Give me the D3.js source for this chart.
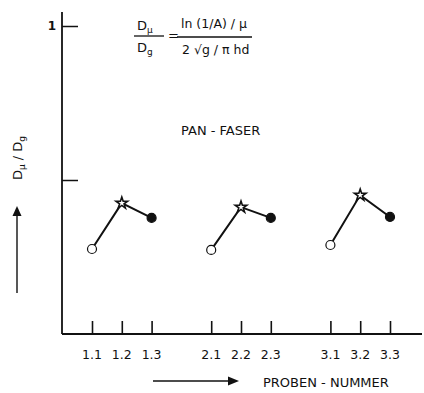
<!DOCTYPE html>
<html>
<head>
<meta charset="utf-8">
<script src="https://cdn.jsdelivr.net/npm/d3@7"></script>
<style>
  body { margin: 0; background: #fff; }
  text { font-family: "DejaVu Sans", sans-serif; fill: #111; }
</style>
</head>
<body>
<svg id="chart" width="424" height="393"></svg>
<script>
var groups = ['1', '2', '3'];
var samples = ['1.1', '1.2', '1.3', '2.1', '2.2', '2.3', '3.1', '3.2', '3.3'];
var ratio = [0.276, 0.425, 0.377, 0.273, 0.412, 0.377, 0.289, 0.451, 0.380];
var markers = ['open', 'star', 'filled'];
var yTicks = [0.5, 1];
var yTickLabels = ['', '1'];

var svg = d3.select('#chart');

// slot index: three samples per group, then one empty slot
function slot(s) {
  var p = s.split('.');
  return (+p[0] - 1) * 4 + (+p[1] - 1);
}

var x = d3.scaleLinear().domain([0, 10]).range([92, 390]);
var y = d3.scaleLinear().domain([0, 1]).range([334, 26]);

var g = svg.append('g');

// axes
g.append('g')
  .attr('transform', 'translate(0,334)')
  .call(d3.axisTop(x).tickValues(samples.map(slot)).tickFormat('').tickSize(13))
  .call(a => a.select('.domain').remove())
  .call(a => a.selectAll('line').attr('stroke', '#111').attr('stroke-width', 1.6));

g.append('line').attr('x1', 62).attr('x2', 422).attr('y1', 334).attr('y2', 334)
  .attr('stroke', '#111').attr('stroke-width', 1.8);

g.append('g')
  .selectAll('text')
  .data(samples)
  .enter()
  .append('text')
  .attr('x', d => x(slot(d)))
  .attr('y', 359)
  .attr('text-anchor', 'middle')
  .attr('font-size', 12.5)
  .attr('fill', '#111')
  .text(d => d);

g.append('g')
  .attr('transform', 'translate(62,0)')
  .call(d3.axisRight(y).tickValues(yTicks).tickFormat('').tickSize(16))
  .call(a => a.select('.domain').remove())
  .call(a => a.selectAll('line').attr('stroke', '#111').attr('stroke-width', 1.5));

g.append('line').attr('x1', 62).attr('x2', 62).attr('y1', 12).attr('y2', 334)
  .attr('stroke', '#111').attr('stroke-width', 1.8);

yTicks.forEach(function(t, i) {
  g.append('text').attr('x', 52).attr('y', y(t) + 4).attr('text-anchor', 'middle')
    .attr('font-size', 12).attr('font-weight', 'bold').text(yTickLabels[i]);
});

// lines per group
groups.forEach(function(gr) {
  var pts = samples.map((s, i) => ({ s: s, v: ratio[i], m: markers[i % 3] }))
    .filter(d => d.s.split('.')[0] === gr);
  g.append('path')
    .datum(pts)
    .attr('fill', 'none')
    .attr('stroke', '#111')
    .attr('stroke-width', 2)
    .attr('d', d3.line().x(d => x(slot(d.s))).y(d => y(d.v)));

  pts.forEach(function(d) {
    var cx = x(slot(d.s)), cy = y(d.v);
    if (d.m === 'star') {
      g.append('path')
        .attr('transform', 'translate(' + cx + ',' + cy + ')')
        .attr('d', d3.symbol().type(d3.symbolStar).size(42)())
        .attr('fill', '#fff').attr('stroke', '#111').attr('stroke-width', 1.6);
    } else {
      g.append('circle').attr('cx', cx).attr('cy', cy).attr('r', 4.5)
        .attr('fill', d.m === 'filled' ? '#111' : '#fff')
        .attr('stroke', '#111').attr('stroke-width', 1.2);
    }
  });
});

// formula
var f = g.append('g').attr('font-size', 13);
f.append('text').attr('x', 137).attr('y', 30).html('D<tspan font-size="9" dy="3">μ</tspan>');
f.append('line').attr('x1', 134).attr('x2', 164).attr('y1', 36).attr('y2', 36).attr('stroke', '#111').attr('stroke-width', 1.3);
f.append('text').attr('x', 137).attr('y', 52).html('D<tspan font-size="9" dy="3">g</tspan>');
f.append('text').attr('x', 168).attr('y', 40).text('=');
f.append('text').attr('x', 181).attr('y', 28).attr('font-size', 12.5).text('ln (1/A) / μ');
f.append('line').attr('x1', 177).attr('x2', 252).attr('y1', 37).attr('y2', 37).attr('stroke', '#111').attr('stroke-width', 1.3);
f.append('text').attr('x', 182).attr('y', 54).attr('font-size', 12.5).text('2 √g / π hd');

g.append('text').attr('x', 181).attr('y', 135).attr('font-size', 13).text('PAN - FASER');

// y label and arrow
g.append('text')
  .attr('transform', 'translate(22,158) rotate(-90)')
  .attr('text-anchor', 'middle')
  .attr('font-size', 13)
  .html('D<tspan font-size="9" dy="3">μ</tspan><tspan dy="-3"> / D</tspan><tspan font-size="9" dy="3">g</tspan>');

g.append('line').attr('x1', 17).attr('x2', 17).attr('y1', 293).attr('y2', 215)
  .attr('stroke', '#111').attr('stroke-width', 1.4);
g.append('path').attr('d', 'M17,206 L12.5,216 L21.5,216 Z').attr('fill', '#111');

// x label and arrow
g.append('line').attr('x1', 153).attr('x2', 229).attr('y1', 381).attr('y2', 381)
  .attr('stroke', '#111').attr('stroke-width', 1.4);
g.append('path').attr('d', 'M239,381 L228,376.5 L228,385.5 Z').attr('fill', '#111');
g.append('text').attr('x', 263).attr('y', 387).attr('font-size', 13).text('PROBEN - NUMMER');
</script>
</body>
</html>
